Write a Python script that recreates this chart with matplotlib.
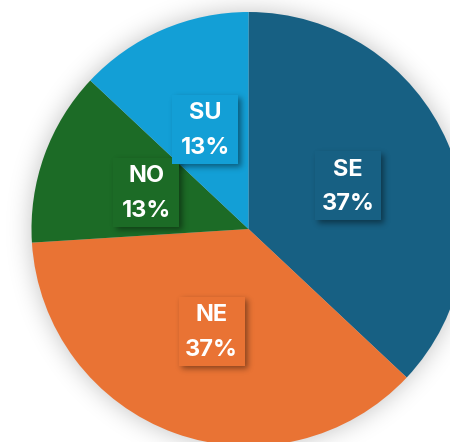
import math
import numpy as np
import matplotlib
matplotlib.use("Agg")
import matplotlib.pyplot as plt
from matplotlib.patches import Rectangle

# Regional share (percent)
regions = ["SE", "NE", "NO", "SU"]
shares = [37, 37, 13, 13]
colors = ["#176083", "#E97334", "#1C6B26", "#139FD6"]

W, H = 450, 442
fig = plt.figure(figsize=(W / 100, H / 100), dpi=100)
ax = fig.add_axes([0, 0, 1, 1])

cx, cy, R = 248.5, H - 229, 217.0

# pixel grid for soft shadows
xs = np.arange(W) + 0.5
ys = np.arange(H) + 0.5
X, Y = np.meshgrid(xs, ys)
verf = np.vectorize(math.erf)


def soft_edge(d, sigma):
    return 0.5 * (1.0 - verf(d / (math.sqrt(2) * sigma)))


# drop shadow around the pie
dist = np.hypot(X - cx, Y - cy) - R
pie_alpha = 0.24 * soft_edge(dist, 12.0)
img = np.zeros((H, W, 4))
img[..., 3] = pie_alpha
ax.imshow(img, extent=(0, W, 0, H), origin="lower", zorder=0, interpolation="bilinear")

wedges, _ = ax.pie(
    shares,
    colors=colors,
    startangle=90,
    counterclock=False,
    center=(cx, cy),
    radius=R,
    wedgeprops=dict(linewidth=0, zorder=1),
)

box_w, box_h = 66, 69
off_x, off_y, sig = 3.0, -3.0, 3.0

for w, name, val, col in zip(wedges, regions, shares, colors):
    mid = math.radians((w.theta1 + w.theta2) / 2)
    lx = cx + 0.5 * R * math.cos(mid)
    ly = cy + 0.5 * R * math.sin(mid)
    x0, x1 = lx - box_w / 2, lx + box_w / 2
    y0, y1 = ly - box_h / 2, ly + box_h / 2

    # blurred shadow under the label card
    fx = 0.5 * (verf((xs - x0 - off_x) / (math.sqrt(2) * sig)) - verf((xs - x1 - off_x) / (math.sqrt(2) * sig)))
    fy = 0.5 * (verf((ys - y0 - off_y) / (math.sqrt(2) * sig)) - verf((ys - y1 - off_y) / (math.sqrt(2) * sig)))
    sh = np.zeros((H, W, 4))
    sh[..., 3] = 0.42 * np.outer(fy, fx)
    ax.imshow(sh, extent=(0, W, 0, H), origin="lower", zorder=2, interpolation="bilinear")

    ax.add_patch(Rectangle((x0, y0), box_w, box_h, facecolor=col, edgecolor="none", zorder=3))
    ax.text(lx, ly + 10, name, color="white", fontsize=17, fontweight="bold",
            family="Inter", ha="center", va="baseline", zorder=4)
    ax.text(lx, ly - 24.5, f"{val}%", color="white", fontsize=17, fontweight="bold",
            family="Inter", ha="center", va="baseline", zorder=4)

ax.set_xlim(0, W)
ax.set_ylim(0, H)
ax.set_aspect("equal")
ax.set_axis_off()

fig.savefig("out.png", dpi=100, facecolor="white")
